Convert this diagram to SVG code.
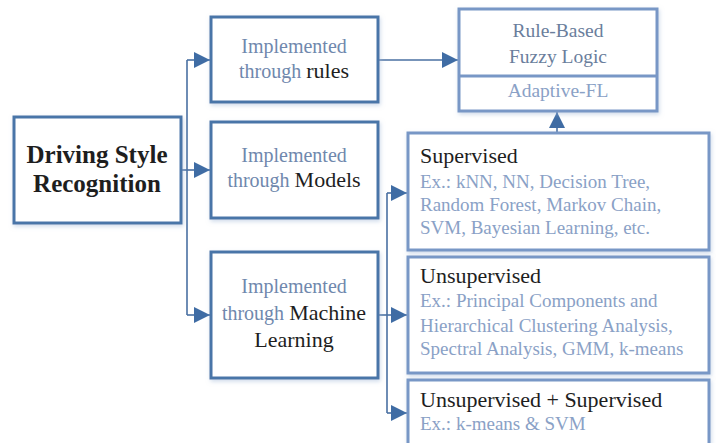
<svg xmlns="http://www.w3.org/2000/svg" width="716" height="443" viewBox="0 0 716 443">
<style>
.main{fill:#fff;stroke:#4a75a8;stroke-width:3}
.sub{fill:#fff;stroke:#7897c6;stroke-width:3}
text{font-family:'Liberation Serif', Tinos, 'DejaVu Serif', serif}
.blue{fill:#7088ad}
.lb{fill:#8aa1c6}
.dk{fill:#1e1e1e}
.c{text-anchor:middle}
.conn{fill:none;stroke:#4a70a2;stroke-width:1.6}
</style>
<defs>
<filter id="sh" x="-10%" y="-10%" width="120%" height="130%">
<feDropShadow dx="1" dy="2" stdDeviation="2" flood-color="#9fb6d6" flood-opacity="0.5"/>
</filter>
<marker id="ah" markerUnits="userSpaceOnUse" markerWidth="16" markerHeight="16" viewBox="0 0 16 16" refX="16" refY="8" orient="auto">
<path d="M0,0 L16,8 L0,16 Z" fill="#3f6ca4"/>
</marker>
</defs>

<g id="connectors">
<path class="conn" d="M181,170 H210" marker-end="url(#ah)"/>
<path class="conn" d="M187,60 V315"/>
<path class="conn" d="M187,60 H210" marker-end="url(#ah)"/>
<path class="conn" d="M187,315 H210" marker-end="url(#ah)"/>
<path class="conn" d="M378,60 H458" marker-end="url(#ah)"/>
<path class="conn" d="M378,315 H407" marker-end="url(#ah)"/>
<path class="conn" d="M387,193 V413"/>
<path class="conn" d="M387,193 H407" marker-end="url(#ah)"/>
<path class="conn" d="M387,413 H407" marker-end="url(#ah)"/>
<path class="conn" d="M557,132 V112" marker-end="url(#ah)"/>
</g>

<g id="dsr">
<rect class="main" x="14" y="117" width="167" height="106" filter="url(#sh)"/>
<text class="dk c" x="97" y="163" font-size="25" font-weight="bold">Driving Style</text>
<text class="dk c" x="97" y="192" font-size="25" font-weight="bold">Recognition</text>
</g>

<g id="rules">
<rect class="main" x="211" y="17" width="167" height="85" filter="url(#sh)"/>
<text class="blue c" x="294" y="53" font-size="20">Implemented</text>
<text class="c" x="294" y="78" font-size="20"><tspan class="blue">through </tspan><tspan class="dk" font-size="22">rules</tspan></text>
</g>

<g id="models">
<rect class="main" x="211" y="122" width="167" height="96" filter="url(#sh)"/>
<text class="blue c" x="294" y="162" font-size="20">Implemented</text>
<text class="c" x="294" y="187" font-size="20"><tspan class="blue">through </tspan><tspan class="dk" font-size="22">Models</tspan></text>
</g>

<g id="ml">
<rect class="main" x="211" y="252" width="167" height="126" filter="url(#sh)"/>
<text class="blue c" x="294" y="293" font-size="20">Implemented</text>
<text class="c" x="294" y="320" font-size="20"><tspan class="blue">through </tspan><tspan class="dk" font-size="22">Machine</tspan></text>
<text class="dk c" x="294" y="347" font-size="22">Learning</text>
</g>

<g id="fuzzy">
<rect class="sub" x="459" y="9" width="198" height="102" filter="url(#sh)"/>
<line x1="459" y1="76" x2="657" y2="76" stroke="#7897c6" stroke-width="3"/>
<text class="c" x="558" y="37" font-size="19.5" fill="#6a7e9c">Rule-Based</text>
<text class="c" x="558" y="63" font-size="19.5" fill="#6a7e9c">Fuzzy Logic</text>
<text class="lb c" x="558" y="97" font-size="19.5">Adaptive-FL</text>
</g>

<g id="supervised">
<rect class="sub" x="408" y="133" width="301" height="117" filter="url(#sh)"/>
<text class="dk" x="420" y="163" font-size="22">Supervised</text>
<text class="lb" x="420" y="188" font-size="19">Ex.: kNN, NN, Decision Tree,</text>
<text class="lb" x="420" y="211" font-size="19">Random Forest, Markov Chain,</text>
<text class="lb" x="420" y="234" font-size="19">SVM, Bayesian Learning, etc.</text>
</g>

<g id="unsupervised">
<rect class="sub" x="408" y="257" width="301" height="116" filter="url(#sh)"/>
<text class="dk" x="420" y="283" font-size="22">Unsupervised</text>
<text class="lb" x="420" y="307" font-size="19">Ex.: Principal Components and</text>
<text class="lb" x="420" y="332" font-size="19">Hierarchical Clustering Analysis,</text>
<text class="lb" x="420" y="355" font-size="19">Spectral Analysis, GMM, k-means</text>
</g>

<g id="combined">
<rect class="sub" x="408" y="380" width="301" height="72" filter="url(#sh)"/>
<text class="dk" x="420" y="407" font-size="22">Unsupervised + Supervised</text>
<text class="lb" x="420" y="430" font-size="19">Ex.: k-means &amp; SVM</text>
</g>
</svg>
